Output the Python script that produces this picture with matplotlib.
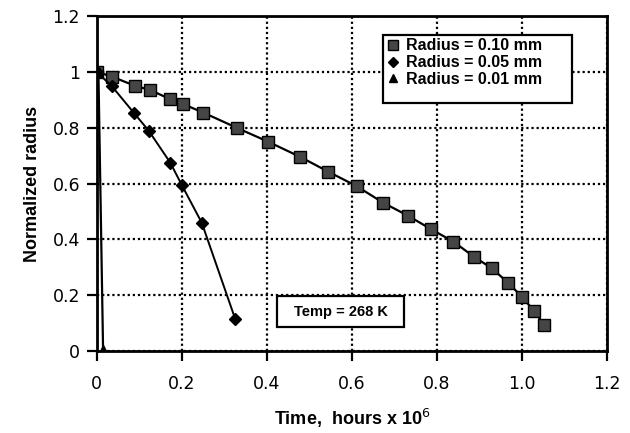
import matplotlib
matplotlib.use("Agg")
import matplotlib.pyplot as plt
from matplotlib.patches import Rectangle

plt.rcParams['font.family'] = ['Liberation Sans', 'DejaVu Sans']

# Radius = 0.10 mm
t_010 = [0.0, 0.036, 0.090, 0.126, 0.173, 0.204, 0.251, 0.329, 0.403, 0.478, 0.544,
         0.611, 0.673, 0.732, 0.787, 0.839, 0.887, 0.930, 0.967, 1.000, 1.029, 1.053]
r_010 = [1.0, 0.983, 0.950, 0.935, 0.902, 0.884, 0.854, 0.800, 0.750, 0.696, 0.643,
         0.591, 0.532, 0.485, 0.436, 0.392, 0.338, 0.296, 0.245, 0.195, 0.143, 0.093]
# Radius = 0.05 mm
t_005 = [0.0, 0.036, 0.087, 0.122, 0.173, 0.200, 0.247, 0.326]
r_005 = [1.0, 0.948, 0.854, 0.790, 0.675, 0.595, 0.460, 0.114]
# Radius = 0.01 mm
t_001 = [0.004, 0.015]
r_001 = [1.0, 0.004]

xticks = [0, 0.2, 0.4, 0.6, 0.8, 1.0, 1.2]
xticklabels = ['0', '0.2', '0.4', '0.6', '0.8', '1.0', '1.2']
yticks = [0, 0.2, 0.4, 0.6, 0.8, 1.0, 1.2]
yticklabels = ['0', '0.2', '0.4', '0.6', '0.8', '1', '1.2']
labels = ['Radius = 0.10 mm', 'Radius = 0.05 mm', 'Radius = 0.01 mm']
note = 'Temp = 268 K'

fig = plt.figure(figsize=(6.3, 4.33), dpi=100)
ax = fig.add_axes([0.1535, 0.189, 0.81, 0.774])

ax.plot(t_010, r_010, color='black', lw=1.6, marker='s', markersize=8.5,
        markerfacecolor='#454545', markeredgecolor='black', markeredgewidth=1.0,
        label=labels[0], zorder=4)
ax.plot(t_005, r_005, color='black', lw=1.4, marker='D', markersize=6.5,
        markerfacecolor='black', markeredgecolor='black', label=labels[1], zorder=4)
ax.plot(t_001, r_001, color='black', lw=1.6, marker='^', markersize=7,
        markerfacecolor='black', markeredgecolor='black', label=labels[2], zorder=4)

ax.set_xlim(0, 1.2)
ax.set_ylim(0, 1.2)
ax.set_xticks(xticks)
ax.set_xticklabels(xticklabels, family=['DejaVu Sans'])
ax.set_yticks(yticks)
ax.set_yticklabels(yticklabels, family=['DejaVu Sans'])
ax.tick_params(axis='both', direction='out', length=7, width=1.6,
               labelsize=12.5)
ax.tick_params(axis='x', pad=10)
ax.tick_params(axis='y', pad=5)
ax.grid(True, color='black', linestyle=(0, (1, 1.3)), linewidth=1.6)
for s in ax.spines.values():
    s.set_linewidth(2.0)

ax.set_xlabel('Time,  hours x 10$^{6}$', fontsize=13, fontweight='bold', labelpad=10)
ax.set_ylabel('Normalized radius', fontsize=13, fontweight='bold', labelpad=8)

# legend frame drawn as a rectangle in axes coordinates
ax.add_patch(Rectangle((0.561, 0.740), 0.370, 0.203, transform=ax.transAxes,
                       facecolor='white', edgecolor='black', linewidth=1.6,
                       zorder=6))
leg = ax.legend(loc='center left', bbox_to_anchor=(0.569, 0.861), frameon=False,
                prop={'size': 11.5, 'weight': 'bold'}, handlelength=0.7,
                handletextpad=0.5, borderpad=0, labelspacing=0.12,
                markerscale=0.85, borderaxespad=0)
leg.set_zorder(7)
for h in leg.get_lines():
    h.set_linestyle('none')

ax.add_patch(Rectangle((0.425, 0.086), 0.297, 0.111, facecolor='white',
                       edgecolor='black', linewidth=1.6, zorder=5))
ax.text(0.5735, 0.1415, note, fontsize=10.5, fontweight='bold',
        ha='center', va='center', zorder=6)

fig.savefig('out.png', dpi=100)
